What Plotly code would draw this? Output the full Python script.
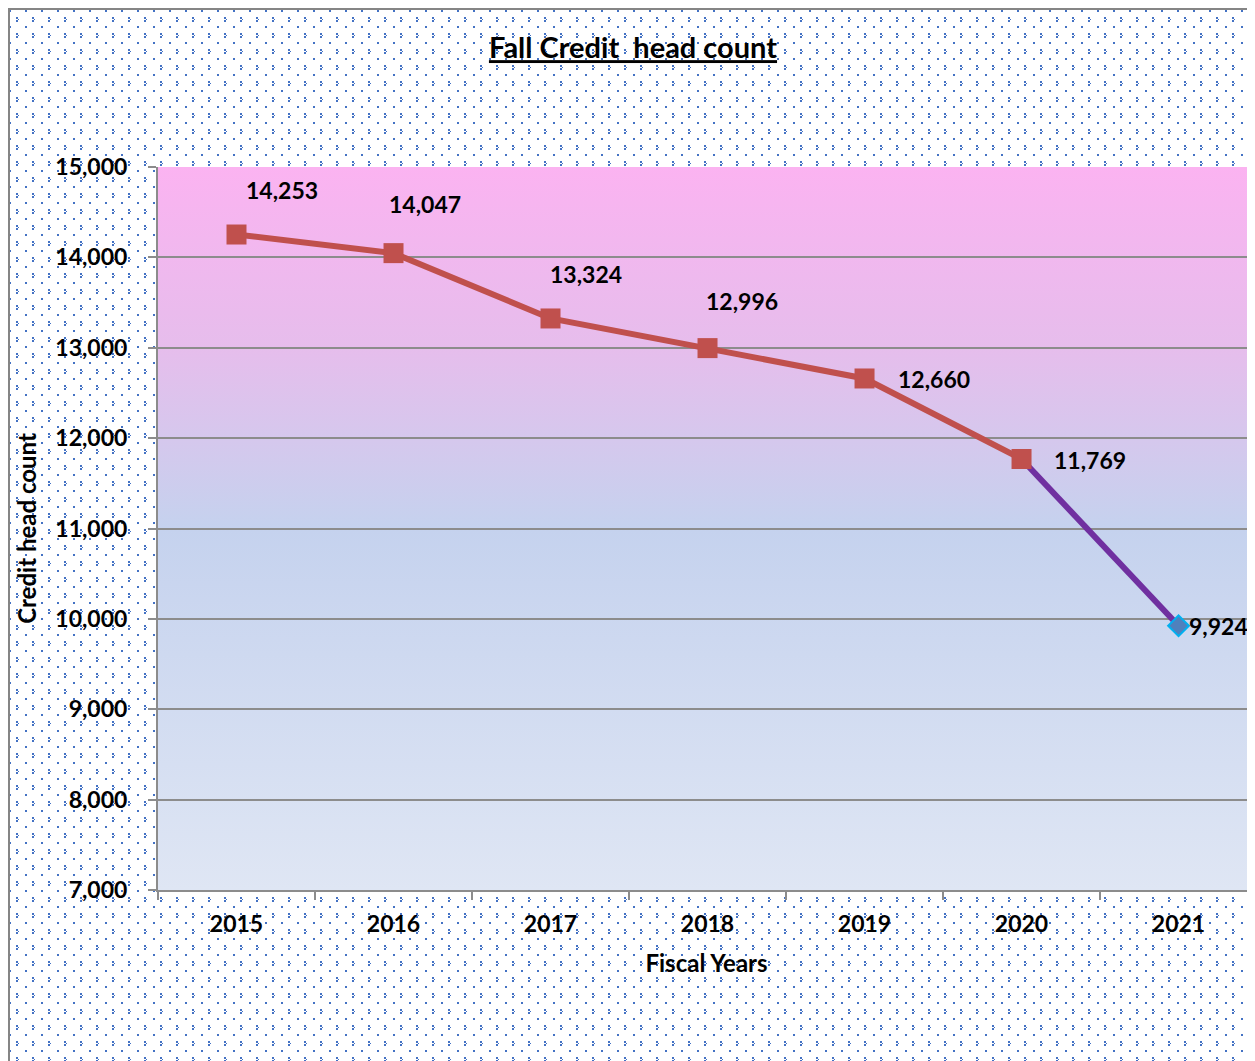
import base64
import plotly.graph_objects as go

# ---- data ----
years = ["2015", "2016", "2017", "2018", "2019", "2020", "2021"]
headcount = [14253, 14047, 13324, 12996, 12660, 11769, 9924]
y_ticks = [7000, 8000, 9000, 10000, 11000, 12000, 13000, 14000, 15000]

W, H = 1247, 1053
L, R, T, B = 150, 0, 159, 171
PW, PH = W - L - R, H - T - B

FONT = "Lato"

# ---- background pattern (whole figure) ----
bg_svg = f'''<svg xmlns="http://www.w3.org/2000/svg" width="{W}" height="{H}" viewBox="0 0 {W} {H}" shape-rendering="crispEdges">
<defs>
<pattern id="p" patternUnits="userSpaceOnUse" width="16" height="16" x="8" y="9">
<rect x="0" y="0" width="2" height="2" fill="#4472C4"/>
<rect x="2" y="2" width="1" height="1" fill="#4472C4"/>
<rect x="0" y="3" width="2" height="2" fill="#4472C4"/>
<rect x="9" y="9" width="2" height="2" fill="#4472C4"/>
</pattern>
</defs>
<rect x="0" y="0" width="{W}" height="{H}" fill="#ffffff"/>
<rect x="2" y="2" width="{W}" height="{H}" fill="url(#p)"/>
<rect x="0" y="0" width="2" height="{H}" fill="#858585"/>
<rect x="0" y="0" width="{W}" height="2" fill="#858585"/>
</svg>'''

grad_svg = '''<svg xmlns="http://www.w3.org/2000/svg" width="100" height="100" viewBox="0 0 100 100" preserveAspectRatio="none">
<defs>
<linearGradient id="g" x1="0" y1="0" x2="0" y2="1">
<stop offset="0" stop-color="#FBB3F1"/>
<stop offset="0.25" stop-color="#E6BDEC"/>
<stop offset="0.5" stop-color="#C5D2EE"/>
<stop offset="1" stop-color="#DFE6F4"/>
</linearGradient>
</defs>
<rect x="0" y="0" width="100" height="100" fill="url(#g)"/>
</svg>'''


def uri(svg):
    return "data:image/svg+xml;base64," + base64.b64encode(svg.encode()).decode()


fig = go.Figure()

# purple last segment (below)
fig.add_trace(go.Scatter(
    x=years[-2:], y=headcount[-2:], mode="lines",
    line=dict(color="#7030A0", width=6), hoverinfo="skip", showlegend=False))
# red main series
fig.add_trace(go.Scatter(
    x=years[:-1], y=headcount[:-1], mode="lines+markers",
    line=dict(color="#C0504D", width=6),
    marker=dict(symbol="square", size=20, color="#C0504D",
                line=dict(color="#C0504D", width=0)),
    showlegend=False))
# last point diamond
fig.add_trace(go.Scatter(
    x=years[-1:], y=headcount[-1:], mode="markers",
    marker=dict(symbol="diamond", size=16, color="#4F81BD",
                line=dict(color="#00B0F0", width=2)),
    showlegend=False))

# data labels
label_dx = [7, -7, -3, -4, 31, 30, 8]
label_dy = [45, 49, 44, 47, -1, -1, 0]
for i, v in enumerate(headcount):
    fig.add_annotation(
        x=i, y=v, xref="x", yref="y", text=f"{v:,}",
        showarrow=False, xanchor="left", yanchor="middle",
        xshift=label_dx[i], yshift=label_dy[i],
        font=dict(family=FONT, size=23, color="#000000", weight="bold"))

fig.update_layout(
    width=W, height=H,
    margin=dict(l=L, r=R, t=T, b=B, pad=0),
    paper_bgcolor="#ffffff",
    plot_bgcolor="rgba(0,0,0,0)",
    font=dict(family=FONT, color="#000000"),
    title=dict(
        text="Fall Credit\u00a0 head count",
        x=625 / W, xref="container", xanchor="center",
        y=1 - 40 / H, yref="container", yanchor="middle",
        font=dict(family=FONT, size=29, color="#000000", weight="bold",
                  lineposition="under")),
    images=[
        dict(source=uri(bg_svg), xref="paper", yref="paper",
             x=-L / PW, y=1 + T / PH, sizex=W / PW, sizey=H / PH,
             xanchor="left", yanchor="top", sizing="stretch", layer="below"),
        dict(source=uri(grad_svg), xref="paper", yref="paper",
             x=0, y=1, sizex=1, sizey=1,
             xanchor="left", yanchor="top", sizing="stretch", layer="below"),
    ],
    xaxis=dict(
        type="category", categoryorder="array", categoryarray=years,
        range=[-0.5, 6.487],
        tickson="boundaries", ticks="outside", ticklen=8, tickwidth=2,
        tickcolor="#8C8C8C", showline=True, linecolor="#8C8C8C", linewidth=2,
        showgrid=False, zeroline=False,
        tickfont=dict(family=FONT, size=23, color="#000000", weight="bold"),
        ticklabelstandoff=12,
        title=dict(text="Fiscal Years", standoff=20,
                   font=dict(family=FONT, size=24, color="#000000", weight="bold")),
    ),
    yaxis=dict(
        range=[7000, 15000], tickvals=y_ticks, tickformat=",",
        ticks="outside", ticklen=8, tickwidth=2, tickcolor="#8C8C8C",
        showline=True, linecolor="#8C8C8C", linewidth=2,
        showgrid=True, gridcolor="#8C8C8C", gridwidth=2, zeroline=False,
        tickfont=dict(family=FONT, size=23, color="#000000", weight="bold"),
        ticklabelstandoff=16,
        title=dict(text="Credit head count", standoff=12,
                   font=dict(family=FONT, size=24, color="#000000", weight="bold")),
    ),
)

fig.write_html("out.html")
